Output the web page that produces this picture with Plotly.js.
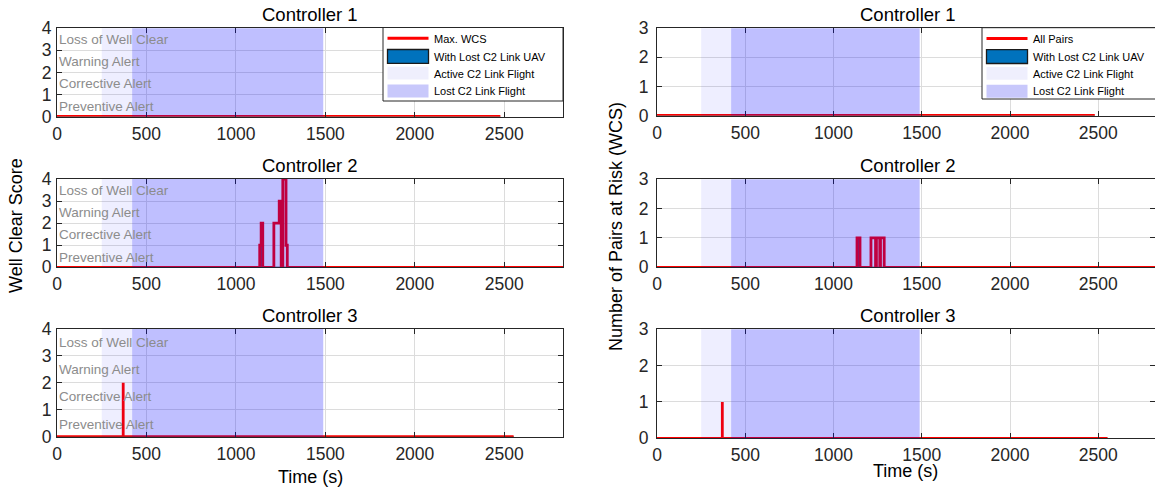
<!DOCTYPE html>
<html><head><meta charset="utf-8">
<script src="https://cdn.plot.ly/plotly-3.0.1.min.js"></script>
<style>html,body{margin:0;padding:0;background:#fff;}#chart{width:1155px;height:488px;}</style>
</head><body><div id="chart"></div>
<script>
// ---------------- data ----------------
const controllers = ['Controller 1', 'Controller 2', 'Controller 3'];
const xTickVals = [0, 500, 1000, 1500, 2000, 2500];
const wcsTickVals = [0, 1, 2, 3, 4];
const pairsTickVals = [0, 1, 2, 3];
const alertLabels = ['Loss of Well Clear', 'Warning Alert', 'Corrective Alert', 'Preventive Alert'];
const alertLevels = [3.5, 2.5, 1.5, 0.45];

// C2 link flight phases (s)
const activeLink = [250, 420];
const lostLink = [420, 1488];

// Max. WCS (step series) per controller
const c1WcsTime = [0, 2478];
const c1WcsValue = [0, 0];
const c2WcsTime = [0, 1133, 1141, 1150, 1212, 1242, 1253, 1262, 1280, 1287, 2850];
const c2WcsValue = [0, 1, 2, 0, 2, 3, 0, 4, 1, 0, 0];
const c3WcsTime = [0, 370, 370, 2552];
const c3WcsValue = [0, 2, 0, 0];

// WCS with lost C2 link UAV
const c1WcsLostTime = [0, 2478];
const c1WcsLostValue = [0, 0];
const c2WcsLostTime = [0, 1133, 1141, 1150, 2850];
const c2WcsLostValue = [0, 1, 2, 0, 0];
const c3WcsLostTime = [0, 2552];
const c3WcsLostValue = [0, 0];

// Number of pairs at risk: all pairs
const c1PairsTime = [0, 2480];
const c1PairsValue = [0, 0];
const c2PairsTime = [0, 1133, 1150, 1212, 1238, 1243, 1262, 1266, 1287, 2850];
const c2PairsValue = [0, 1, 0, 1, 0, 1, 0, 1, 0, 0];
const c3PairsTime = [0, 370, 370, 2552];
const c3PairsValue = [0, 1, 0, 0];

// Number of pairs at risk: with lost C2 link UAV
const c1PairsLostTime = [0, 2480];
const c1PairsLostValue = [0, 0];
const c2PairsLostTime = [0, 1133, 1150, 2850];
const c2PairsLostValue = [0, 1, 0, 0];
const c3PairsLostTime = [0, 2552];
const c3PairsLostValue = [0, 0];

// ---------------- layout helpers ----------------
const W = 1155, H = 488;
const FONT = 'Liberation Sans, Arial, Helvetica, sans-serif';
const px = v => v / W, py = v => 1 - v / H;
const AX = '#262626', GRID = '#DCDCDC';
const RED = '#FF0000', NAVY = '#0072BD';
const ACTIVE_FILL = 'rgba(0,0,255,0.065)', LOST_FILL = 'rgba(0,0,255,0.25)';

const panels = [
  {n: 1, title: controllers[0], xDom: [57, 563], yPix: [28.3, 116.5], yMax: 4, ticks: wcsTickVals, xMax: 2828, red: [c1WcsTime, c1WcsValue], navy: [c1WcsLostTime, c1WcsLostValue], labels: true},
  {n: 2, title: controllers[1], xDom: [57, 563], yPix: [179, 267.3], yMax: 4, ticks: wcsTickVals, xMax: 2828, red: [c2WcsTime, c2WcsValue], navy: [c2WcsLostTime, c2WcsLostValue], labels: true},
  {n: 3, title: controllers[2], xDom: [57, 563], yPix: [329, 436.7], yMax: 4, ticks: wcsTickVals, xMax: 2828, red: [c3WcsTime, c3WcsValue], navy: [c3WcsLostTime, c3WcsLostValue], labels: true},
  {n: 4, title: controllers[0], xDom: [657, 1155], yPix: [28.3, 115.5], yMax: 3, ticks: pairsTickVals, xMax: 2821, red: [c1PairsTime, c1PairsValue], navy: [c1PairsLostTime, c1PairsLostValue], labels: false},
  {n: 5, title: controllers[1], xDom: [657, 1155], yPix: [179.3, 267.3], yMax: 3, ticks: pairsTickVals, xMax: 2821, red: [c2PairsTime, c2PairsValue], navy: [c2PairsLostTime, c2PairsLostValue], labels: false},
  {n: 6, title: controllers[2], xDom: [657, 1155], yPix: [329.3, 438.3], yMax: 3, ticks: pairsTickVals, xMax: 2821, red: [c3PairsTime, c3PairsValue], navy: [c3PairsLostTime, c3PairsLostValue], labels: false}
];

const traces = [];
const shapes = [];
const annotations = [];
const layout = {
  width: W, height: H,
  margin: {l: 0, r: 0, t: 0, b: 0, pad: 0},
  paper_bgcolor: '#ffffff', plot_bgcolor: '#ffffff',
  showlegend: false,
  font: {family: FONT, color: AX}
};

panels.forEach(p => {
  const xs = p.n === 1 ? 'x' : 'x' + p.n;
  const ys = p.n === 1 ? 'y' : 'y' + p.n;
  const xk = p.n === 1 ? 'xaxis' : 'xaxis' + p.n;
  const yk = p.n === 1 ? 'yaxis' : 'yaxis' + p.n;
  const common = {
    ticks: 'inside', ticklen: 5, tickwidth: 1, tickcolor: AX,
    showline: true, linecolor: AX, linewidth: 1, mirror: 'ticks',
    showgrid: true, gridcolor: GRID, gridwidth: 1, zeroline: false,
    tickfont: {family: FONT, size: 17.5, color: AX}, fixedrange: true
  };
  layout[xk] = Object.assign({}, common, {
    domain: [px(p.xDom[0]), px(p.xDom[1])], range: [0, p.xMax],
    tickmode: 'array', tickvals: xTickVals, anchor: ys, ticklabelstandoff: 1
  });
  layout[yk] = Object.assign({}, common, {
    domain: [py(p.yPix[1]), py(p.yPix[0])], range: [0, p.yMax],
    tickmode: 'array', tickvals: p.ticks, anchor: xs, ticklabelstandoff: p.labels ? 1 : 4
  });

  traces.push({
    type: 'scatter', mode: 'lines', x: p.navy[0], y: p.navy[1], xaxis: xs, yaxis: ys,
    line: {color: '#000000', width: 1.2, shape: 'hv'}, fill: 'tozeroy', fillcolor: NAVY,
    name: 'With Lost C2 Link UAV', hoverinfo: 'skip'
  });
  traces.push({
    type: 'scatter', mode: 'lines', x: p.red[0], y: p.red[1], xaxis: xs, yaxis: ys,
    line: {color: RED, width: 2.8, shape: 'hv'},
    name: p.labels ? 'Max. WCS' : 'All Pairs', hoverinfo: 'skip'
  });

  // C2 link phases, drawn above the lines with transparency
  shapes.push({type: 'rect', xref: xs, yref: ys + ' domain', x0: activeLink[0], x1: activeLink[1], y0: 0, y1: 1,
    fillcolor: ACTIVE_FILL, line: {width: 0}, layer: 'above'});
  shapes.push({type: 'rect', xref: xs, yref: ys + ' domain', x0: lostLink[0], x1: lostLink[1], y0: 0, y1: 1,
    fillcolor: LOST_FILL, line: {width: 0}, layer: 'above'});

  // panel title
  annotations.push({xref: 'paper', yref: 'paper', x: px((p.xDom[0] + Math.min(p.xDom[1], 1160)) / 2 + (p.labels ? 0 : 2)),
    y: py(p.yPix[0] - 14), xanchor: 'center', yanchor: 'middle', showarrow: false,
    text: p.title, font: {family: FONT, size: 18.5, color: '#000'}});

  if (p.labels) {
    alertLabels.forEach((t, i) => annotations.push({
      xref: xs, yref: ys, x: 0, y: alertLevels[i], xanchor: 'left', yanchor: 'middle', xshift: 0,
      showarrow: false, text: t, font: {family: FONT, size: 13.5, color: 'rgb(140,140,140)'}
    }));
  }
});

// axis titles
annotations.push({xref: 'paper', yref: 'paper', x: px(16), y: py(226), textangle: -90, showarrow: false,
  xanchor: 'center', yanchor: 'middle', text: 'Well Clear Score', font: {family: FONT, size: 18, color: '#000'}});
annotations.push({xref: 'paper', yref: 'paper', x: px(616), y: py(227), textangle: -90, showarrow: false,
  xanchor: 'center', yanchor: 'middle', text: 'Number of Pairs at Risk (WCS)', font: {family: FONT, size: 18, color: '#000'}});
annotations.push({xref: 'paper', yref: 'paper', x: px(310), y: py(477), showarrow: false,
  xanchor: 'center', yanchor: 'middle', text: 'Time (s)', font: {family: FONT, size: 18, color: '#000'}});
annotations.push({xref: 'paper', yref: 'paper', x: px(905), y: py(471), showarrow: false,
  xanchor: 'center', yanchor: 'middle', text: 'Time (s)', font: {family: FONT, size: 18, color: '#000'}});

// legends (drawn as boxes)
function addLegend(left, right, top, bottom, firstName) {
  shapes.push({type: 'rect', xref: 'paper', yref: 'paper', x0: px(left), x1: px(right), y0: py(bottom), y1: py(top),
    fillcolor: '#ffffff', line: {color: AX, width: 1}, layer: 'above'});
  const sx0 = left + 4.5, sx1 = left + 45.5, tx = left + 50;
  shapes.push({type: 'line', xref: 'paper', yref: 'paper', x0: px(sx0), x1: px(sx1), y0: py(top + 10.8), y1: py(top + 10.8),
    line: {color: RED, width: 3}, layer: 'above'});
  shapes.push({type: 'rect', xref: 'paper', yref: 'paper', x0: px(sx0), x1: px(sx1), y0: py(top + 35.8), y1: py(top + 22),
    fillcolor: NAVY, line: {color: '#1a1a1a', width: 1.3}, layer: 'above'});
  shapes.push({type: 'rect', xref: 'paper', yref: 'paper', x0: px(sx0), x1: px(sx1), y0: py(top + 52), y1: py(top + 39.3),
    fillcolor: 'rgb(239,239,253)', line: {width: 0}, layer: 'above'});
  shapes.push({type: 'rect', xref: 'paper', yref: 'paper', x0: px(sx0), x1: px(sx1), y0: py(top + 70), y1: py(top + 57),
    fillcolor: 'rgb(200,200,251)', line: {width: 0}, layer: 'above'});
  const names = [firstName, 'With Lost C2 Link UAV', 'Active C2 Link Flight', 'Lost C2 Link Flight'];
  const ys = [top + 11, top + 29, top + 46, top + 63.5];
  names.forEach((t, i) => annotations.push({xref: 'paper', yref: 'paper', x: px(tx), y: py(ys[i]),
    xanchor: 'left', yanchor: 'middle', showarrow: false, text: t, borderpad: 0,
    font: {family: FONT, size: 11, color: '#000'}}));
}
addLegend(383, 563, 27.5, 101, 'Max. WCS');
addLegend(982, 1175, 27.7, 99, 'All Pairs');

layout.shapes = shapes;
layout.annotations = annotations;

Plotly.newPlot('chart', traces, layout, {staticPlot: true, displayModeBar: false});
</script>
</body></html>
